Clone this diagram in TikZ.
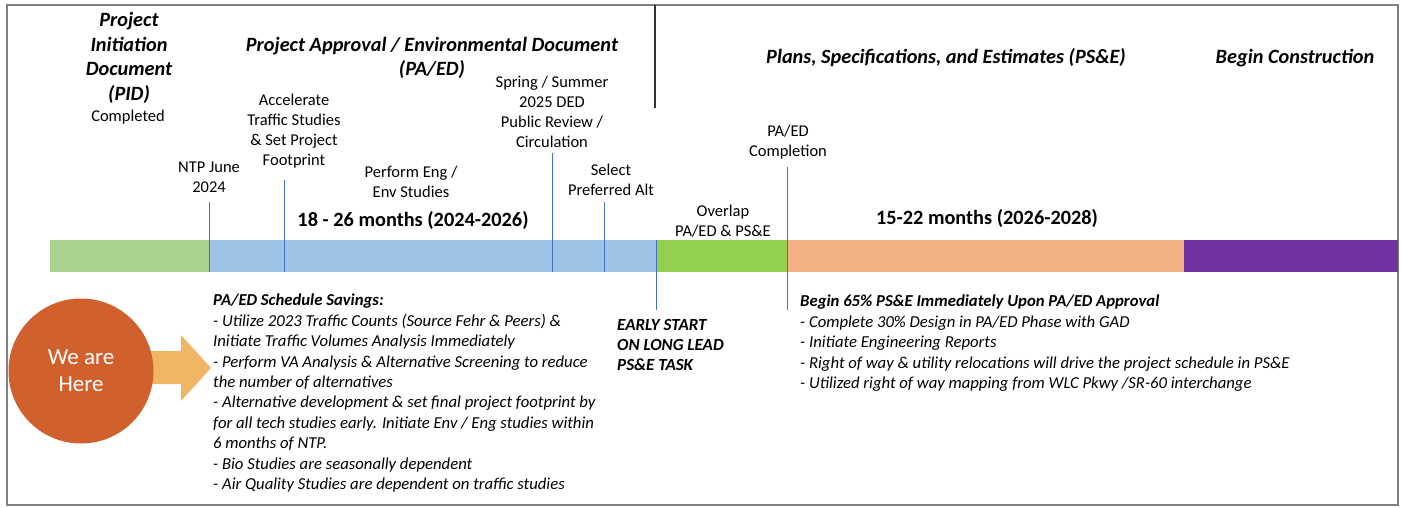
\documentclass[tikz,border=0pt]{standalone}
\usepackage{fontspec}
\setmainfont{Carlito}
\definecolor{pidgreen}{RGB}{169,209,142}
\definecolor{paedblue}{RGB}{157,195,230}
\definecolor{overlapgreen}{RGB}{146,208,80}
\definecolor{pssalmon}{RGB}{244,177,131}
\definecolor{conpurple}{RGB}{112,48,160}
\definecolor{markblue}{RGB}{68,114,196}
\definecolor{herered}{RGB}{208,96,44}
\definecolor{arroworange}{RGB}{240,182,102}
\definecolor{framegray}{RGB}{128,128,128}
\tikzset{
  phasehead/.style={inner sep=0pt, align=center, font=\fontsize{20.3}{24.5}\selectfont\bfseries\itshape},
  milelabel/.style={inner sep=0pt, align=center, font=\fontsize{16.5}{20}\selectfont},
  durlabel/.style={inner sep=0pt, font=\fontsize{20.3}{24}\selectfont\bfseries},
  notehead/.style={inner sep=0pt, align=left, font=\fontsize{16.7}{20.4}\selectfont\itshape},
  marker/.style={draw=markblue, line width=0.8pt},
}
\begin{document}
\begin{tikzpicture}[x=1pt,y=-1pt]
\useasboundingbox (0,0) rectangle (1403,508);
\fill[white] (0,0) rectangle (1403,508);
% frame
\draw[framegray, line width=2pt] (7,5) rectangle (1398,505);
\draw[black!80, line width=1.5pt] (655,5) -- (655,108);
% bar segments
\fill[pidgreen] (50,240) rectangle (209,272);
\fill[paedblue] (209,240) rectangle (656,272);
\fill[overlapgreen] (656,240) rectangle (787,272);
\fill[pssalmon] (787,240) rectangle (1184,272);
\fill[conpurple] (1184,240) rectangle (1398,272);
% markers
\coordinate (m1t) at (209,202); \coordinate (m1b) at (209,272);
\coordinate (m2t) at (284,180); \coordinate (m2b) at (284,272);
\coordinate (m3t) at (552,153); \coordinate (m3b) at (552,272);
\coordinate (m4t) at (604,202); \coordinate (m4b) at (604,272);
\coordinate (m5t) at (656,240); \coordinate (m5b) at (656,310);
\coordinate (m6t) at (787,167); \coordinate (m6b) at (787,310);
\foreach \k in {1,...,6} \draw[marker] (m\k t) -- (m\k b);
% headings
\node[phasehead] (pid) at (129,58) {Project\\Initiation\\Document\\(PID)};
\node[milelabel] (pidc) at (128,117.5) {Completed};
\node[phasehead] (paed) at (432,58) {Project Approval / Environmental Document\\(PA/ED)};
\node[phasehead] (pse) at (946,58) {Plans, Specifications, and Estimates (PS\&E)};
\node[phasehead] (con) at (1295,58) {Begin Construction};
% milestone labels
\node[milelabel] (acc) at (294,131.5) {Accelerate\\Traffic Studies\\\& Set Project\\Footprint};
\node[milelabel] (spr) at (552,111.5) {Spring / Summer\\2025 DED\\Public Review /\\Circulation};
\node[milelabel] (ntp) at (209,177.5) {NTP June\\2024};
\node[milelabel] (perf) at (411,181.5) {Perform Eng /\\Env Studies};
\node[milelabel] (sel) at (611,179.5) {Select\\Preferred Alt};
\node[milelabel] (ovl) at (723,221.5) {Overlap\\PA/ED \& PS\&E};
\node[milelabel] (comp) at (788,142.5) {PA/ED\\Completion};
\node[durlabel] (d1) at (413,220.5) {18 - 26 months (2024-2026)};
\node[durlabel] (d2) at (987,218.5) {15-22 months (2026-2028)};
% we are here
\fill[arroworange] (150,351) -- (181,351) -- (181,335) -- (211,368) -- (181,401) -- (181,384) -- (150,384) -- cycle;
\node[circle, fill=herered, minimum size=145pt, inner sep=0pt, text=white, align=center,
  font=\fontsize{23}{27}\selectfont] (here) at (81,371) {We are\\Here};
% notes
\node[notehead, anchor=north west] (savings) at (213,294) {\textbf{PA/ED Schedule Savings:}\\
- Utilize 2023 Traffic Counts (Source Fehr \& Peers) \&\\
Initiate Traffic Volumes Analysis Immediately\\
- Perform VA Analysis \& Alternative Screening to reduce\\
the number of alternatives\\
- Alternative development \& set final project footprint by\\
for all tech studies early. Initiate Env / Eng studies within\\
6 months of NTP.\\
- Bio Studies are seasonally dependent\\
- Air Quality Studies are dependent on traffic studies};
\node[notehead, anchor=north west, font=\fontsize{17}{20}\selectfont\bfseries\itshape] (early) at (617,319) {EARLY START\\ON LONG LEAD\\PS\&E TASK};
\node[notehead, anchor=north west] (begin) at (800,295) {\textbf{Begin 65\% PS\&E Immediately Upon PA/ED Approval}\\
- Complete 30\% Design in PA/ED Phase with GAD\\
- Initiate Engineering Reports\\
- Right of way \& utility relocations will drive the project schedule in PS\&E\\
- Utilized right of way mapping from WLC Pkwy /SR-60 interchange};
\end{tikzpicture}
\end{document}
